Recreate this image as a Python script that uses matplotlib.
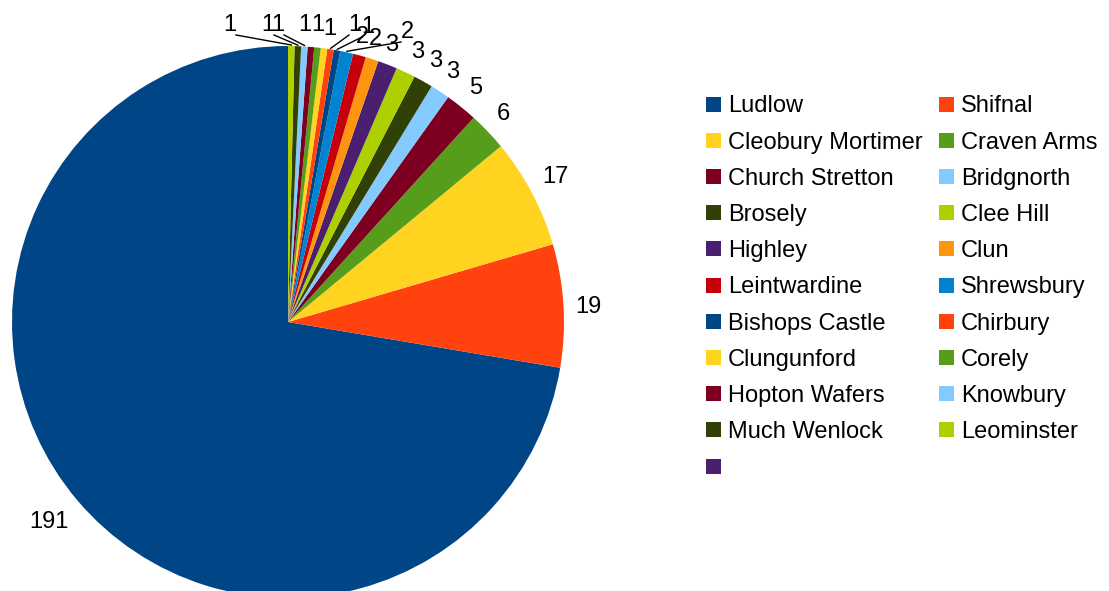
import numpy as np
import matplotlib
matplotlib.use("Agg")
import matplotlib.pyplot as plt
from matplotlib.patches import Rectangle

plt.rcParams["font.family"] = ["Liberation Sans", "DejaVu Sans"]

# ===================== DATA =====================
TOWNS = [
    "Ludlow", "Shifnal", "Cleobury Mortimer", "Craven Arms",
    "Church Stretton", "Bridgnorth", "Brosely", "Clee Hill",
    "Highley", "Clun", "Leintwardine", "Shrewsbury",
    "Bishops Castle", "Chirbury", "Clungunford", "Corely",
    "Hopton Wafers", "Knowbury", "Much Wenlock", "Leominster",
    "",
]
COUNTS = [191, 19, 17, 6, 5, 3, 3, 3, 3, 2, 2, 2,
          1, 1, 1, 1, 1, 1, 1, 1, 0]

# LibreOffice default palette, repeated
PALETTE = ["#004586", "#ff420e", "#ffd320", "#579d1c", "#7e0021", "#83caff",
           "#314004", "#aecf00", "#4b1f6f", "#ff950e", "#c5000b", "#0084d1"]
COLORS = [PALETTE[i % len(PALETTE)] for i in range(len(TOWNS))]

# ===================== LAYOUT (pixels) =====================
W, H = 1109, 591
CENTER = (288, H - 322)
RADIUS = 276
LABEL_DIST = 288
FONT = 17
CAP = 16.9        # cap height of the font in pixels
HALF_H = 12       # half height of a label box
DIGIT_W = 13.1    # width of one digit in pixels

# crowded labels moved away from the wedge (image pixel coords, text centre)
LABEL_MOVED = {
    8: (392, 43),
    9: (375, 37),
    10: (362, 35),
    11: (407, 30),
    12: (368, 25),
    13: (355, 23),
    14: (330, 27),
    15: (318, 23),
    16: (305, 23),
    17: (278, 23),
    18: (268, 23),
    19: (230, 23),
}

fig = plt.figure(figsize=(W / 100, H / 100), dpi=100)
ax = fig.add_axes([0, 0, 1, 1])

wedges, _ = ax.pie(
    COUNTS,
    colors=COLORS,
    startangle=90,
    counterclock=True,
    center=CENTER,
    radius=RADIUS,
    wedgeprops=dict(linewidth=0),
)
ax.set_xlim(0, W)
ax.set_ylim(0, H)
ax.set_aspect("equal")
ax.axis("off")


def sgn(v, tol=0.1):
    if v > tol:
        return 1
    if v < -tol:
        return -1
    return 0


# ===================== VALUE LABELS =====================
for i, (w, v) in enumerate(zip(wedges, COUNTS)):
    if v == 0:
        continue
    mid = np.deg2rad((w.theta1 + w.theta2) / 2)
    c, s = np.cos(mid), np.sin(mid)
    half_w = len(str(v)) * DIGIT_W / 2
    dx = CENTER[0] + LABEL_DIST * c + sgn(c) * half_w
    dy = CENTER[1] + LABEL_DIST * s + sgn(s) * HALF_H
    if i in LABEL_MOVED:
        cx, cy = LABEL_MOVED[i]
        cy = H - cy
        if np.hypot(cx - dx, cy - dy) > 15:
            ex = CENTER[0] + (RADIUS + 1) * c
            ey = CENTER[1] + (RADIUS + 1) * s
            sx = cx + (6 if cx < ex else -6)
            sy = cy - 12
            ax.plot([sx, ex], [sy, ey], color="black", linewidth=1)
    else:
        cx, cy = dx, dy
    ax.text(cx, cy - CAP / 2, str(v), fontsize=FONT, ha="center",
            va="baseline")

# ===================== LEGEND (row major, 2 columns) =====================
LEG_X = [706, 939]
LEG_Y0 = 104
LEG_DY = 36.2
SQ = 15
for i, name in enumerate(TOWNS):
    col, row = i % 2, i // 2
    x = LEG_X[col]
    y = H - (LEG_Y0 + row * LEG_DY)
    ax.add_patch(Rectangle((x, y - SQ / 2), SQ, SQ, facecolor=COLORS[i],
                           edgecolor="none"))
    ax.text(x + SQ + 7, y - CAP / 2, name, fontsize=FONT, ha="left",
            va="baseline")

plt.savefig("out.png", dpi=100)
